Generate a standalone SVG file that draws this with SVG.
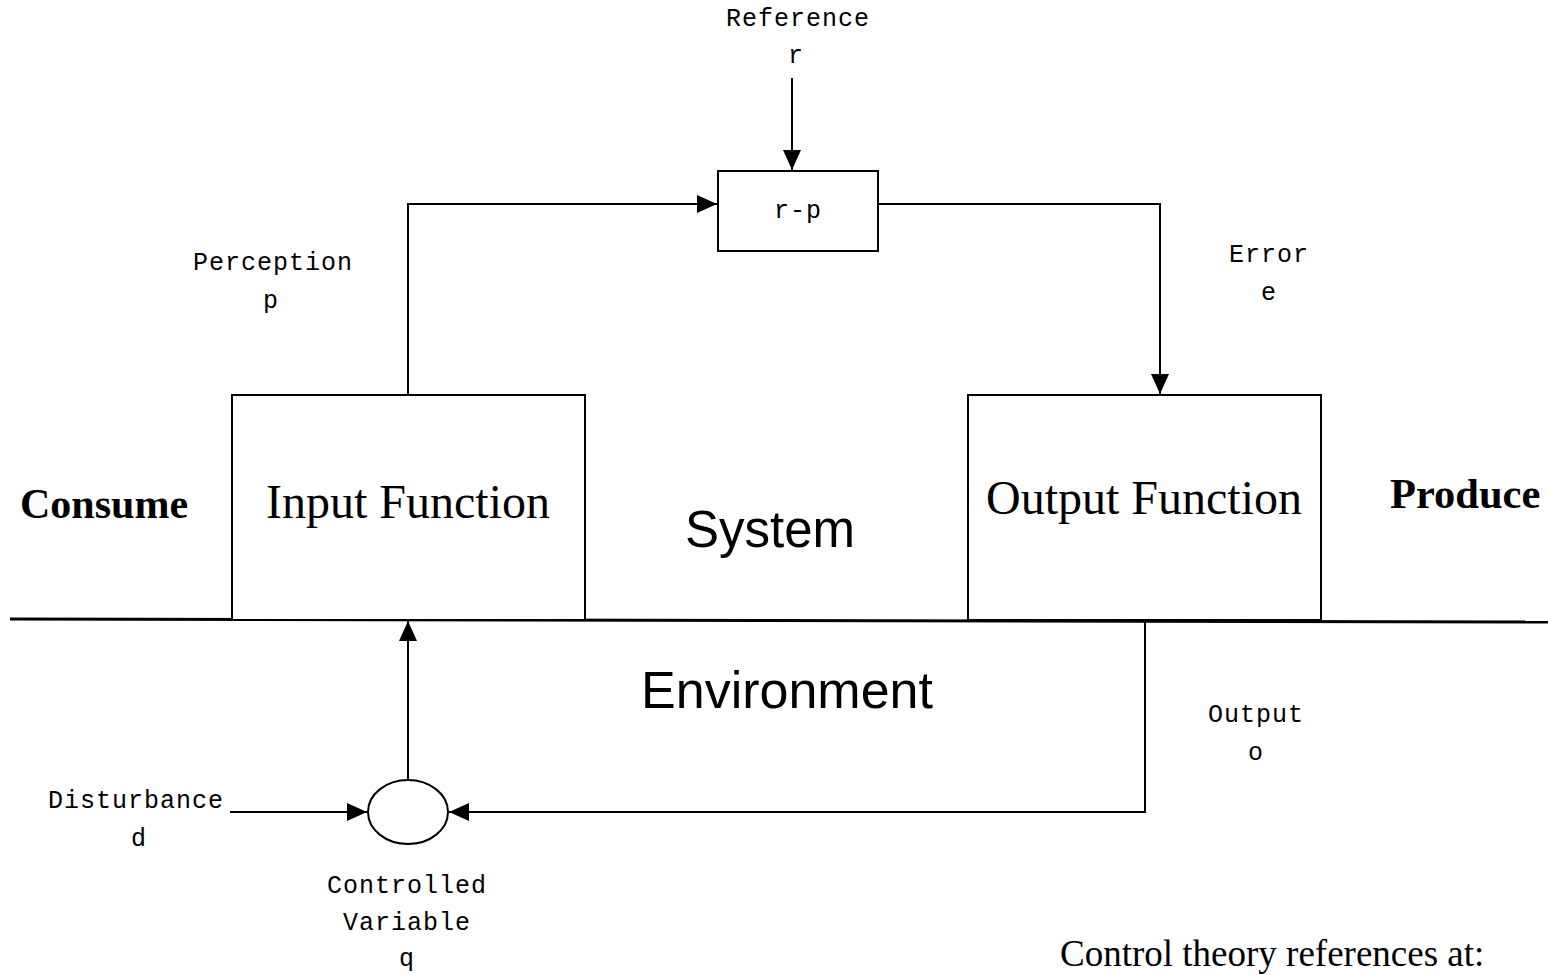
<svg xmlns="http://www.w3.org/2000/svg" width="1548" height="975" viewBox="0 0 1548 975">
  <style>
    .mono { font-family: "Liberation Mono", "Courier New", monospace; font-size: 25px; letter-spacing: 1px; fill: #000; text-anchor: middle; }
    .serif { font-family: "Liberation Serif", "Times New Roman", serif; fill: #000; }
    .sans { font-family: "Liberation Sans", Arial, sans-serif; fill: #000; text-anchor: middle; }
    .box { fill: #fff; stroke: #000; stroke-width: 2; }
    .wire { fill: none; stroke: #000; stroke-width: 2; }
  </style>
  <defs>
    <marker id="arrow" markerUnits="userSpaceOnUse" markerWidth="22" markerHeight="18" refX="20" refY="9" orient="auto">
      <path d="M0,0 L20,9 L0,18 Z" fill="#000"/>
    </marker>
  </defs>
  <rect width="1548" height="975" fill="#fff"/>

  <!-- system / environment boundary -->
  <line x1="10" y1="619" x2="1548" y2="622" stroke="#000" stroke-width="3"/>

  <g id="connectors">
    <!-- reference into comparator -->
    <line class="wire" x1="792" y1="78" x2="792" y2="170" marker-end="url(#arrow)"/>
    <!-- perception into comparator -->
    <polyline class="wire" points="408,395 408,204 717,204" marker-end="url(#arrow)"/>
    <!-- error into output function -->
    <polyline class="wire" points="878,204 1160,204 1160,394" marker-end="url(#arrow)"/>
    <!-- controlled variable up to input function -->
    <line class="wire" x1="408" y1="780" x2="408" y2="621" marker-end="url(#arrow)"/>
    <!-- output back to controlled variable -->
    <polyline class="wire" points="1145,622 1145,812 449,812" marker-end="url(#arrow)"/>
    <!-- disturbance into controlled variable -->
    <line class="wire" x1="230" y1="812" x2="367" y2="812" marker-end="url(#arrow)"/>
  </g>

  <g id="comparator">
    <rect class="box" x="718" y="171" width="160" height="80"/>
    <text class="mono" x="798" y="218">r-p</text>
  </g>

  <g id="input-function">
    <rect class="box" x="232" y="395" width="353" height="225"/>
    <text class="serif" x="408" y="518" font-size="48" text-anchor="middle">Input Function</text>
  </g>

  <g id="output-function">
    <rect class="box" x="968" y="395" width="353" height="225"/>
    <text class="serif" x="1144" y="514" font-size="48" text-anchor="middle">Output Function</text>
  </g>

  <g id="controlled-variable">
    <ellipse class="box" cx="408" cy="812" rx="40" ry="32"/>
  </g>

  <g id="labels">
    <text class="mono" x="798" y="26">Reference</text>
    <text class="mono" x="796" y="63">r</text>
    <text class="mono" x="273" y="270">Perception</text>
    <text class="mono" x="271" y="308">p</text>
    <text class="mono" x="1269" y="262">Error</text>
    <text class="mono" x="1269" y="300">e</text>
    <text class="mono" x="1256" y="722">Output</text>
    <text class="mono" x="1256" y="760">o</text>
    <text class="mono" x="136" y="808">Disturbance</text>
    <text class="mono" x="139" y="846">d</text>
    <text class="mono" x="407" y="893">Controlled</text>
    <text class="mono" x="407" y="930">Variable</text>
    <text class="mono" x="407" y="966">q</text>

    <text class="serif" x="20" y="518" font-size="42" font-weight="bold">Consume</text>
    <text class="serif" x="1390" y="508" font-size="42.5" font-weight="bold">Produce</text>
    <text class="sans" x="770" y="547" font-size="51">System</text>
    <text class="sans" x="787" y="708" font-size="52">Environment</text>
    <text class="serif" x="1060" y="966" font-size="37">Control theory references at:</text>
  </g>
</svg>
